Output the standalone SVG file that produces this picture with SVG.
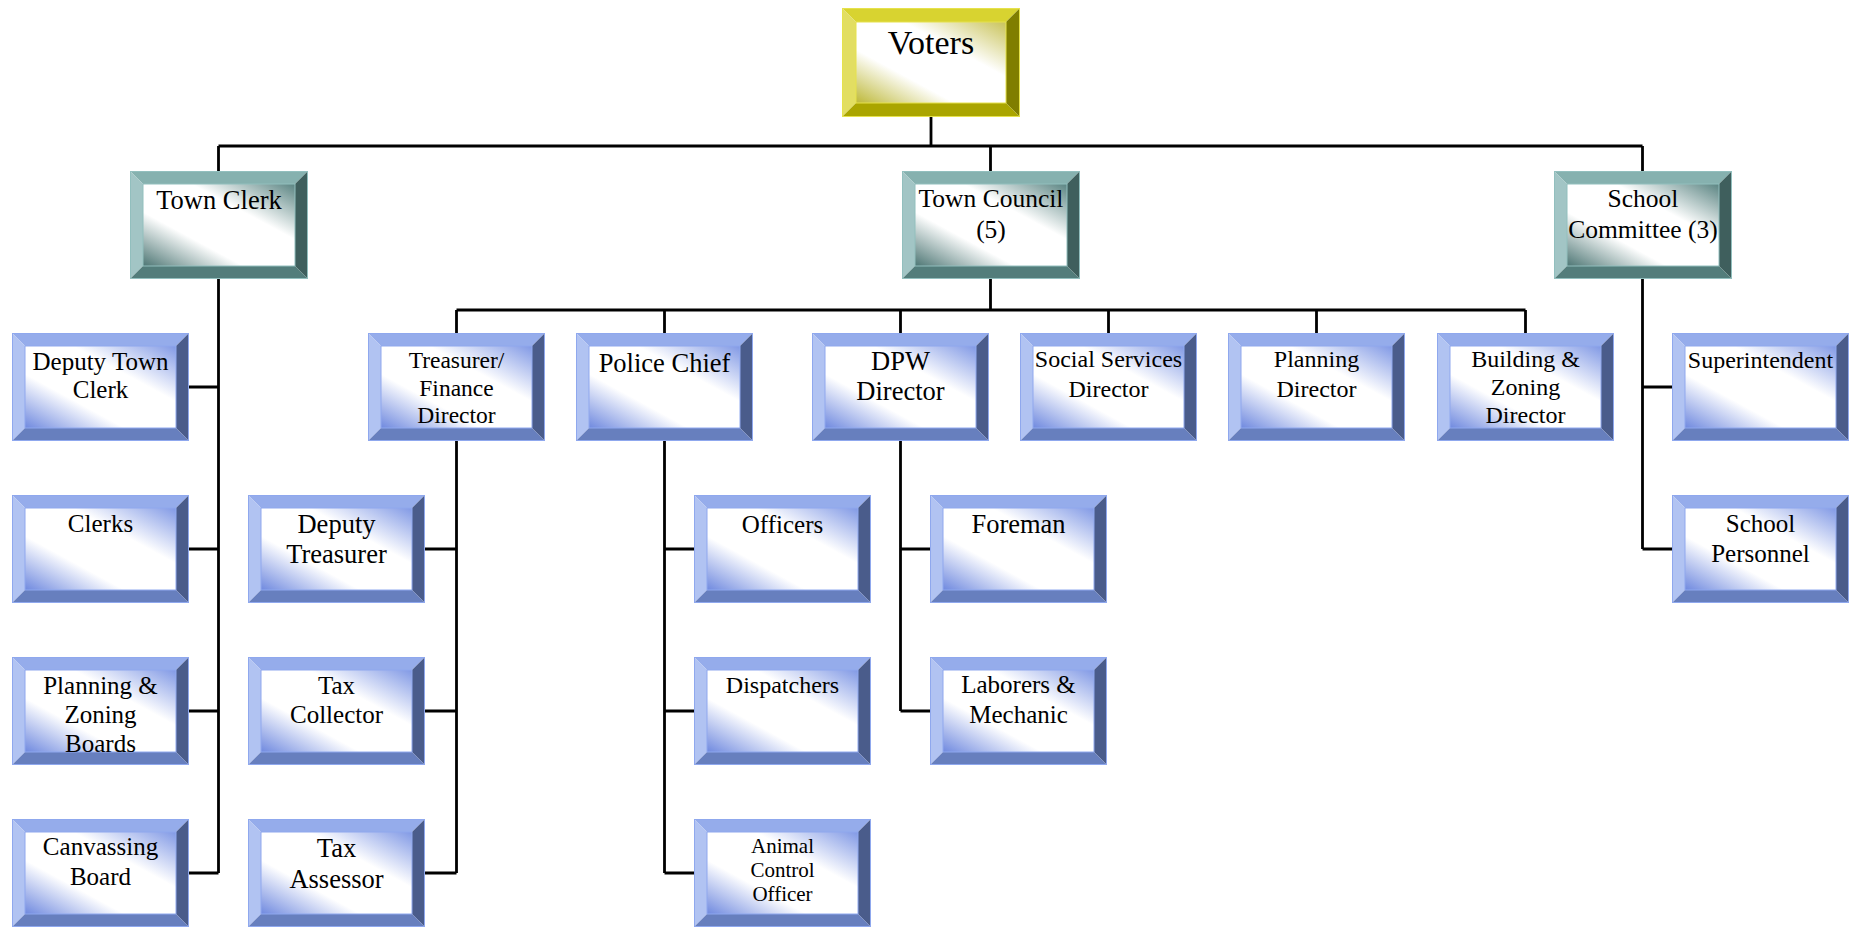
<svg xmlns="http://www.w3.org/2000/svg" width="1854" height="928" viewBox="0 0 1854 928">
<style>
text{font-family:"Liberation Serif","Times New Roman",serif;fill:#000;text-anchor:middle}
.c{fill:none;stroke:#000;stroke-width:2.8}
.f25{font-size:25px}
.f24{font-size:24px}
.f26{font-size:26.5px}
</style>
<defs>
<linearGradient id="gBlue" x1="0" y1="1" x2="1" y2="0">
<stop offset="0" stop-color="#6f89df"/>
<stop offset="0.33" stop-color="#ffffff"/>
<stop offset="0.66" stop-color="#ffffff"/>
<stop offset="1" stop-color="#8199e5"/>
</linearGradient>
<linearGradient id="gTeal" x1="0" y1="1" x2="1" y2="0">
<stop offset="0" stop-color="#4d7674"/>
<stop offset="0.33" stop-color="#ffffff"/>
<stop offset="0.66" stop-color="#ffffff"/>
<stop offset="1" stop-color="#5a8482"/>
</linearGradient>
<linearGradient id="gYel" x1="0" y1="1" x2="1" y2="0">
<stop offset="0" stop-color="#bdb838"/>
<stop offset="0.33" stop-color="#ffffff"/>
<stop offset="0.66" stop-color="#ffffff"/>
<stop offset="1" stop-color="#c9c35a"/>
</linearGradient>
<g id="boxBlue">
<rect x="13" y="13" width="151" height="82" fill="url(#gBlue)"/>
<polygon points="0,0 177,0 164,13 13,13" fill="#95aceb"/>
<polygon points="0,0 13,13 13,95 0,108" fill="#b1c3f2"/>
<polygon points="177,0 177,108 164,95 164,13" fill="#4a5c8b"/>
<polygon points="0,108 13,95 164,95 177,108" fill="#677fbe"/>
<rect x="0.5" y="0.5" width="176" height="107" fill="none" stroke="#8fa8ee" stroke-width="1"/>
<rect x="13" y="13" width="151" height="82" fill="none" stroke="#8fa8ee" stroke-width="1"/>
</g>
<g id="boxTeal">
<rect x="13" y="13" width="152" height="82" fill="url(#gTeal)"/>
<polygon points="0,0 178,0 165,13 13,13" fill="#86b1af"/>
<polygon points="0,0 13,13 13,95 0,108" fill="#a2c5c5"/>
<polygon points="178,0 178,108 165,95 165,13" fill="#3f5f5d"/>
<polygon points="0,108 13,95 165,95 178,108" fill="#537d7b"/>
<rect x="0.5" y="0.5" width="177" height="107" fill="none" stroke="#92bfbe" stroke-width="1"/>
<rect x="13" y="13" width="152" height="82" fill="none" stroke="#92bfbe" stroke-width="1"/>
</g>
<g id="boxYel">
<rect x="14" y="14" width="150" height="81" fill="url(#gYel)"/>
<polygon points="0,0 178,0 164,14 14,14" fill="#d8d330"/>
<polygon points="0,0 14,14 14,95 0,109" fill="#e2de62"/>
<polygon points="178,0 178,109 164,95 164,14" fill="#807e00"/>
<polygon points="0,109 14,95 164,95 178,109" fill="#aaa500"/>
<rect x="0.5" y="0.5" width="177" height="108" fill="none" stroke="#e6e24c" stroke-width="1"/>
<rect x="14" y="14" width="150" height="81" fill="none" stroke="#e6e24c" stroke-width="1"/>
</g>
</defs>
<rect width="1854" height="928" fill="#ffffff"/>

<g id="connectors">
<path class="c" d="M931,117 V146 M218.5,146 H1642.5 M218.5,146 V171 M990.5,146 V171 M1642.5,146 V171"/>
<path class="c" d="M218.5,279 V873 M189,387 H218.5 M189,549 H218.5 M189,711 H218.5 M189,873 H218.5"/>
<path class="c" d="M990.5,279 V310 M456.5,310 H1525.5 M456.5,310 V333 M664.5,310 V333 M900.5,310 V333 M1108.5,310 V333 M1316.5,310 V333 M1525.5,310 V333"/>
<path class="c" d="M456.5,441 V873 M425,549 H456.5 M425,711 H456.5 M425,873 H456.5"/>
<path class="c" d="M664.5,441 V873 M664.5,549 H694 M664.5,711 H694 M664.5,873 H694"/>
<path class="c" d="M900.5,441 V711 M900.5,549 H930 M900.5,711 H930"/>
<path class="c" d="M1642.5,279 V549 M1642.5,387 H1672 M1642.5,549 H1672"/>
</g>

<g id="n-voters"><use href="#boxYel" x="842" y="8"/><text x="931" y="54" style="font-size:34px">Voters</text></g>

<g id="n-town-clerk"><use href="#boxTeal" x="130" y="171"/><text class="f26" x="219" y="209">Town Clerk</text></g>
<g id="n-town-council"><use href="#boxTeal" x="902" y="171"/><text x="991" y="207" style="font-size:25.5px">Town Council</text><text x="991" y="238" style="font-size:25.5px">(5)</text></g>
<g id="n-school-committee"><use href="#boxTeal" x="1554" y="171"/><text x="1643" y="207" style="font-size:25.5px">School</text><text x="1643" y="238" style="font-size:25.5px">Committee (3)</text></g>

<g id="n-deputy-town-clerk"><use href="#boxBlue" x="12" y="333"/><text class="f25" x="100.5" y="370">Deputy Town</text><text class="f25" x="100.5" y="398">Clerk</text></g>
<g id="n-clerks"><use href="#boxBlue" x="12" y="495"/><text class="f25" x="100.5" y="532">Clerks</text></g>
<g id="n-planning-zoning-boards"><use href="#boxBlue" x="12" y="657"/><text class="f25" x="100.5" y="694">Planning &amp;</text><text class="f25" x="100.5" y="723">Zoning</text><text class="f25" x="100.5" y="752">Boards</text></g>
<g id="n-canvassing-board"><use href="#boxBlue" x="12" y="819"/><text class="f25" x="100.5" y="855">Canvassing</text><text class="f25" x="100.5" y="885">Board</text></g>

<g id="n-treasurer"><use href="#boxBlue" x="368" y="333"/><text x="456.5" y="368" style="font-size:23.5px">Treasurer/</text><text x="456.5" y="396" style="font-size:23.5px">Finance</text><text x="456.5" y="423" style="font-size:23.5px">Director</text></g>
<g id="n-deputy-treasurer"><use href="#boxBlue" x="248" y="495"/><text class="f26" x="336.5" y="533">Deputy</text><text class="f26" x="336.5" y="563">Treasurer</text></g>
<g id="n-tax-collector"><use href="#boxBlue" x="248" y="657"/><text class="f25" x="336.5" y="694">Tax</text><text class="f25" x="336.5" y="723">Collector</text></g>
<g id="n-tax-assessor"><use href="#boxBlue" x="248" y="819"/><text class="f26" x="336.5" y="857">Tax</text><text class="f26" x="336.5" y="888">Assessor</text></g>

<g id="n-police-chief"><use href="#boxBlue" x="576" y="333"/><text class="f26" x="664.5" y="372">Police Chief</text></g>
<g id="n-officers"><use href="#boxBlue" x="694" y="495"/><text class="f25" x="782.5" y="533">Officers</text></g>
<g id="n-dispatchers"><use href="#boxBlue" x="694" y="657"/><text class="f24" x="782.5" y="693">Dispatchers</text></g>
<g id="n-animal-control"><use href="#boxBlue" x="694" y="819"/><text x="782.5" y="853" style="font-size:21px">Animal</text><text x="782.5" y="877" style="font-size:21px">Control</text><text x="782.5" y="901" style="font-size:21px">Officer</text></g>

<g id="n-dpw-director"><use href="#boxBlue" x="812" y="333"/><text class="f26" x="900.5" y="370">DPW</text><text class="f26" x="900.5" y="400">Director</text></g>
<g id="n-foreman"><use href="#boxBlue" x="930" y="495"/><text class="f26" x="1018.5" y="533">Foreman</text></g>
<g id="n-laborers"><use href="#boxBlue" x="930" y="657"/><text class="f25" x="1018.5" y="693">Laborers &amp;</text><text class="f25" x="1018.5" y="723">Mechanic</text></g>

<g id="n-social-services"><use href="#boxBlue" x="1020" y="333"/><text class="f24" x="1108.5" y="367">Social Services</text><text class="f24" x="1108.5" y="397">Director</text></g>
<g id="n-planning-director"><use href="#boxBlue" x="1228" y="333"/><text class="f24" x="1316.5" y="367">Planning</text><text class="f24" x="1316.5" y="397">Director</text></g>
<g id="n-building-zoning"><use href="#boxBlue" x="1437" y="333"/><text class="f24" x="1525.5" y="367">Building &amp;</text><text class="f24" x="1525.5" y="395">Zoning</text><text class="f24" x="1525.5" y="423">Director</text></g>

<g id="n-superintendent"><use href="#boxBlue" x="1672" y="333"/><text class="f24" x="1760.5" y="368">Superintendent</text></g>
<g id="n-school-personnel"><use href="#boxBlue" x="1672" y="495"/><text class="f25" x="1760.5" y="532">School</text><text class="f25" x="1760.5" y="562">Personnel</text></g>
</svg>
